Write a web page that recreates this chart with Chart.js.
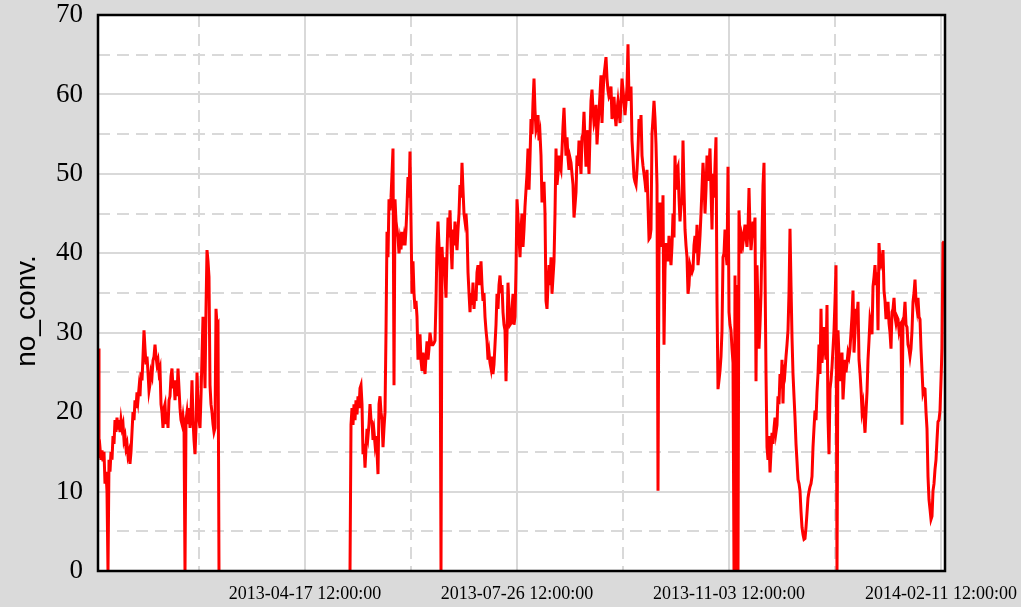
<!DOCTYPE html>
<html>
<head>
<meta charset="utf-8">
<script src="https://cdn.jsdelivr.net/npm/chart.js@4.4.1/dist/chart.umd.min.js"></script>
<style>
html,body{margin:0;padding:0;background:#dadada;}
canvas{display:block;}
</style>
</head>
<body>
<canvas id="c" width="1021" height="607"></canvas>
<script>
// ---- data (x in days since 2013-01-01 00:00) ----
const yTitle = 'no_conv.';
const majorTickDays = [106.5, 206.5, 306.5, 406.5];
const majorTickLabels = ['2013-04-17 12:00:00', '2013-07-26 12:00:00', '2013-11-03 12:00:00', '2014-02-11 12:00:00'];
const minorTickDays = [56.5, 156.5, 256.5, 356.5];
const yTickValues = [0, 5, 10, 15, 20, 25, 30, 35, 40, 45, 50, 55, 60, 65, 70];
const xMinDay = 8.87;
const xMaxDay = 408.4;
const sampleStepDays = 0.4717;
const gapDay = 100;

const seg1StartDay = 8.87;
const seg1Values = [
  28,15,15.5,14,15.2,13.8,15,11,12.5,10,
  0,14,12.5,15,14,17,16,19,17.5,19.3,
  17.8,19,17.5,19,18,18.5,16.5,17,15.5,16,
  14.5,15,13.5,15,17.5,20,19,21.5,20.5,22.5,
  21.5,23,22,25,24,27,30.3,28,26,27,
  25,22.7,23.5,25,24.5,26.5,27,28.5,27,26,
  26.5,25,25.5,21,20,18,20.5,21,18.5,20,
  18,21.5,22,24.5,25.5,23,24,21.5,24,22,
  25.5,23,20.5,19,18.5,19.5,18.4,0,19,20,
  18.5,20.5,18,20,24,19,16.5,14.7,18,25,
  21,19,18,22,27,32,28,23,33,40.4,
  39,37,23.4,21,20,18.5,17.5,18,33,31,
  31.2,0
];

const seg2StartDay = 127.74;
const seg2Values = [
  0,18.4,20.5,18.4,21,19,21.5,19.7,22,20.5,
  23,23.4,21,14.7,16,13,15.5,17.9,17,18.5,
  21,19,18.8,16.5,17.5,16,17,15,12.2,21,
  22,20,19,15.6,18,20,30,42.7,39.5,46.8,
  45.4,47,50,53.2,23.4,46.8,44,43,42,40,
  41.5,40.5,42.7,41,42,41,43,45.9,49.6,47,
  52.8,44,34.9,39,35,33,34,32,26.6,28,
  29.8,26.5,25.2,27.5,26,24.8,27,28.9,26.6,28,
  30,29,28.5,28.5,28.7,29,34,40.8,44,41,
  37.6,0,40.8,38,39.5,37,34.4,40,44.5,42,
  45.4,41,38,43,41,44,42,40.4,43,45,
  48.6,47,51.4,48,45,44,45,43,37.6,35,
  32.6,35,33.5,36.3,33,35,34,37.6,38.5,36,
  37,39,36,34,35,32,30.3,29,26.6,27.5,
  26.2,25.5,27,24.8,26,28.5,31,34.9,33,36,
  37.2,35,36,32.6,31,30.3,23.9,30,36.3,33,
  31,31.2,33,34.9,31,32,38,46.8,44.5,42,
  39.5,43,45,40.8,43,45.9,48,50,53.2,48,
  52,56.9,55,59,62,58,55.5,56,57.4,54.2,
  55,52.3,46.4,48,49,45,34,33,36,38.5,
  36,39.5,34.9,37,39,45,53.2,48.6,50,52.3,
  51,50.5,53,56,58.3,55,52.3,54.6,52,50.5,
  52,51.4,50,48.6,44.5,46,47.7,52.3,51,54.2,
  52,50,54.6,55,57.8,54,50.9,55.5,53,50,
  55,59.2,60.6,58,56.4,57,58.7,53.7,56,57.8,
  60,62.4,56.4,60,62.4,63.5,64.7,62,60.5,59.7,
  60,61,56.9,58,59.7,57.5,56,58,59.2,58,
  56.4,59,62,60.6,59,57.4,59,61,66.3,59.2,
  60,61,54.2,52,49.6,49,48.6,50.5,53,56.9,
  55,57.4,52.3,51,50,49,47.7,50.5,46,41.8,
  42,43,55,57,59.2,57,53.7,48.6,10.1,40,
  46.4,43,40.8,47.3,28.5,38,41.3,40,39,42.2,
  40,38.5,41,45,42,52.3,48,50.5,50.9,47,
  44,46,46.4,54.2,48,43,41,39.5,34.9,36,
  38.5,38,37.6,38,41,42.2,40,43.6,38.5,40,
  42.2,45,48.2,51.4,49,45,48,52.3,49.1,51,
  53.2,48,43,50,47,51,54.6,34,22.9,24,
  25.2,27,30.3,39.5,40,43,40,38.5,50.9,32.6,
  31,30.3,28,26.2,0,37.2,0,36,0,45.4,
  42,40,42,41.3,42.5,43.6,42,40.8,43,48.2,
  43,40.4,42,44,43,44.5,23.9,38.5,33,28,
  31,34.9,42,48.6,51.4,38,24.8,15.6,14,17,
  12.4,15,17.4,16,18,19.3,17.5,18.4,22,21,
  24.8,23,26.6,21.1,26,25.2,27,28.5,30.3,35,
  43.1,36,29.4,24.8,22,19.3,16,13.8,11.5,11,
  10.1,7.5,5.5,4.6,4,4.1,5.5,7.3,9.2,10,
  10.6,11,11.9,15.6,18,20.2,19,22.5,24.8,28.5,
  24.8,33,26.2,28,30.7,28,26.6,33.5,19.3,14.7,
  22.9,24,25.7,28,30.3,34,38.5,0,30.3,27,
  23.9,25,27.5,21.6,24,26.6,25,26.2,27.5,27,
  28,30,32.1,35.3,27.5,30,33,32,33.9,26.6,
  25,22.9,20.2,21,19.3,17.4,20,22.5,26.6,29,
  31.7,31,29.8,35.8,37,38.5,36,37.6,30.3,41.3,
  39,38.5,39,40.4,35.3,34,31.7,33,33.9,31.2,
  30,28,32.6,33,34.4,32,31.2,32,31.7,30.3,
  31,31.2,18.4,31.7,32,33.9,31,30.7,28.5,28,
  27,28,30.3,33.9,35,36.7,34,33,34.4,32,
  31.7,28,25.2,22.5,23,22.9,20,17.9,11.9,9,
  7.8,6.5,6.9,10.1,11,12.8,14,16.5,18.8,19,
  20.2,24,28,41.3,41.5
];

// ---- build points ----
const points = [];
seg1Values.forEach((v, i) => points.push({ x: seg1StartDay + i * sampleStepDays, y: v }));
points.push({ x: gapDay, y: null });
seg2Values.forEach((v, i) => points.push({ x: seg2StartDay + i * sampleStepDays, y: v }));

const GRID = '#d9d9d9';
const DASH = [12, 7];

const framePlugin = {
  id: 'frame',
  beforeDraw(chart) {
    const { ctx, chartArea: a } = chart;
    ctx.save();
    ctx.fillStyle = '#dadada';
    ctx.fillRect(0, 0, chart.width, chart.height);
    ctx.fillStyle = '#ffffff';
    ctx.fillRect(a.left, a.top, a.right - a.left, a.bottom - a.top);
    ctx.restore();
  },
  afterDatasetsDraw(chart) {
    const { ctx, chartArea: a } = chart;
    ctx.save();
    ctx.strokeStyle = '#000';
    ctx.lineWidth = 2.5;
    ctx.strokeRect(a.left, a.top, a.right - a.left, a.bottom - a.top);
    ctx.restore();
  },
  afterDraw(chart) {
    const { ctx } = chart;
    ctx.save();
    ctx.translate(35, 311);
    ctx.rotate(-Math.PI / 2);
    ctx.font = '28px "Liberation Sans", Arial, sans-serif';
    ctx.fillStyle = '#000';
    ctx.textAlign = 'center';
    ctx.textBaseline = 'alphabetic';
    ctx.fillText(yTitle, 0, 0);
    ctx.restore();
  }
};

function zeroPad(axis) {
  axis.paddingTop = 0; axis.paddingBottom = 0; axis.paddingLeft = 0; axis.paddingRight = 0;
}

new Chart(document.getElementById('c'), {
  type: 'line',
  data: {
    datasets: [{
      data: points,
      borderColor: '#ff0000',
      borderWidth: 3,
      pointRadius: 0,
      tension: 0,
      spanGaps: false,
      fill: false,
      borderJoinStyle: 'miter'
    }]
  },
  options: {
    responsive: false,
    animation: false,
    devicePixelRatio: 1,
    layout: { padding: { top: 15, right: 76, left: 0, bottom: 0 } },
    plugins: { legend: { display: false }, tooltip: { enabled: false } },
    scales: {
      x: {
        type: 'linear',
        min: xMinDay,
        max: xMaxDay,
        bounds: 'data',
        afterBuildTicks: (axis) => {
          axis.ticks = minorTickDays.concat(majorTickDays).sort((a, b) => a - b).map(v => ({ value: v }));
        },
        afterFit: (axis) => { axis.height = 36; zeroPad(axis); },
        grid: { color: GRID, lineWidth: 2, drawTicks: false },
        border: { display: false, dash: (c) => (c.tick && minorTickDays.includes(c.tick.value)) ? DASH : [] },
        ticks: {
          autoSkip: false, maxRotation: 0, minRotation: 0, padding: 12, color: '#000',
          font: { family: '"Liberation Serif", "Times New Roman", serif', size: 18 },
          callback: (v) => { const i = majorTickDays.indexOf(v); return i >= 0 ? majorTickLabels[i] : ''; }
        }
      },
      y: {
        type: 'linear',
        min: 0,
        max: 70,
        afterBuildTicks: (axis) => { axis.ticks = yTickValues.map(v => ({ value: v })); },
        afterFit: (axis) => { axis.width = 98; zeroPad(axis); },
        grid: { color: GRID, lineWidth: 2, drawTicks: false },
        border: { display: false, dash: (c) => (c.tick && c.tick.value % 10 !== 0) ? DASH : [] },
        ticks: {
          autoSkip: false, padding: 15, color: '#000',
          font: { family: '"Liberation Serif", "Times New Roman", serif', size: 27 },
          callback: (v) => (v % 10 === 0 ? String(v) : '')
        }
      }
    }
  },
  plugins: [framePlugin]
});
</script>
</body>
</html>
